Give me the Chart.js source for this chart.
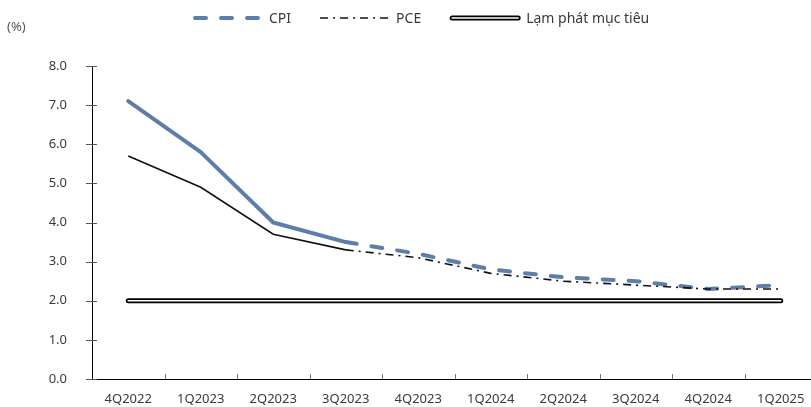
<!DOCTYPE html>
<html>
<head>
<meta charset="utf-8">
<script src="https://cdn.jsdelivr.net/npm/chart.js@4.4.1/dist/chart.umd.min.js"></script>
<style>
  html, body { margin: 0; padding: 0; background: #fff; overflow: hidden; }
  #wrap { position: relative; width: 817px; height: 407px; }
</style>
</head>
<body>
<div id="wrap"><canvas id="c" width="817" height="407"></canvas></div>
<script>
// Quarterly inflation, % y/y (actual through 3Q2023, projection afterwards)
const quarters = ['4Q2022', '1Q2023', '2Q2023', '3Q2023', '4Q2023', '1Q2024', '2Q2024', '3Q2024', '4Q2024', '1Q2025'];
const cpi    = [7.1, 5.8, 4.0, 3.5, 3.2, 2.8, 2.6, 2.5, 2.3, 2.4];
const pce    = [5.7, 4.9, 3.7, 3.3, 3.1, 2.7, 2.5, 2.4, 2.3, 2.3];
const target = [2.0, 2.0, 2.0, 2.0, 2.0, 2.0, 2.0, 2.0, 2.0, 2.0];
const yTicks = [0, 1, 2, 3, 4, 5, 6, 7, 8];
const lastActual = 3; // index of 3Q2023

const FONT = "'Noto Sans', 'Open Sans', sans-serif";
const TEXT = '#3a3a3a';
const CPI_COLOR = '#5d7ea9';
const CPI_DASH = [11, 15];
const PCE_DASH = [8, 5, 2, 5];

const projected = (dash) => (ctx) => ctx.p0DataIndex >= lastActual ? dash : undefined;

// Cross-shaped y ticks and inner x ticks between categories
const tickMarks = {
  id: 'tickMarks',
  afterDraw(chart) {
    const { ctx, scales: { x, y } } = chart;
    ctx.save();
    ctx.strokeStyle = '#555';
    ctx.lineWidth = 1;
    yTicks.forEach(v => {
      const py = Math.round(y.getPixelForValue(v)) + 0.5;
      ctx.beginPath();
      ctx.moveTo(x.left - 6, py);
      ctx.lineTo(x.left + 5, py);
      ctx.stroke();
    });
    ctx.strokeStyle = '#777';
    for (let i = 0; i < quarters.length - 1; i++) {
      const px = Math.round((x.getPixelForValue(i) + x.getPixelForValue(i + 1)) / 2) + 0.5;
      ctx.beginPath();
      ctx.moveTo(px, y.bottom);
      ctx.lineTo(px, y.bottom - 5);
      ctx.stroke();
    }
    ctx.restore();
  }
};

// Unit label and a legend that shows each series' own line style
const legendAndUnit = {
  id: 'legendAndUnit',
  afterDraw(chart) {
    const { ctx } = chart;
    ctx.save();
    ctx.font = `13px ${FONT}`;
    ctx.fillStyle = '#555';
    ctx.textBaseline = 'middle';
    ctx.textAlign = 'left';
    ctx.fillText('(%)', 7, 27);

    ctx.font = `14px ${FONT}`;
    const items = [
      { label: 'CPI', draw: (x0, x1, yy) => {
          ctx.strokeStyle = CPI_COLOR; ctx.lineWidth = 4; ctx.lineCap = 'round';
          ctx.setLineDash(CPI_DASH);
          ctx.beginPath(); ctx.moveTo(x0 + 2, yy); ctx.lineTo(x1, yy); ctx.stroke();
        } },
      { label: 'PCE', draw: (x0, x1, yy) => {
          ctx.strokeStyle = '#111'; ctx.lineWidth = 1.6; ctx.lineCap = 'butt';
          ctx.setLineDash(PCE_DASH);
          ctx.beginPath(); ctx.moveTo(x0, yy); ctx.lineTo(x1, yy); ctx.stroke();
        } },
      { label: 'Lạm phát mục tiêu', draw: (x0, x1, yy) => {
          ctx.setLineDash([]); ctx.lineCap = 'round';
          ctx.strokeStyle = '#000'; ctx.lineWidth = 5;
          ctx.beginPath(); ctx.moveTo(x0 + 2, yy); ctx.lineTo(x1 - 2, yy); ctx.stroke();
          ctx.strokeStyle = '#fff'; ctx.lineWidth = 1.6;
          ctx.beginPath(); ctx.moveTo(x0 + 2, yy); ctx.lineTo(x1 - 2, yy); ctx.stroke();
        } }
    ];
    let x = 193;
    const yy = 18;
    items.forEach(it => {
      ctx.save();
      it.draw(x, x + 70, yy);
      ctx.restore();
      ctx.fillStyle = TEXT;
      ctx.fillText(it.label, x + 76, yy + 1);
      x += 76 + ctx.measureText(it.label).width + 29;
    });
    ctx.restore();
  }
};

new Chart(document.getElementById('c'), {
  type: 'line',
  data: {
    labels: quarters,
    datasets: [
      {
        label: 'PCE', data: pce, order: 0,
        borderColor: '#111', borderWidth: 1.6, pointRadius: 0, tension: 0,
        segment: { borderDash: projected(PCE_DASH) }
      },
      {
        label: 'CPI', data: cpi, order: 1,
        borderColor: CPI_COLOR, borderWidth: 4, pointRadius: 0, tension: 0,
        borderCapStyle: 'round', borderJoinStyle: 'round',
        segment: { borderDash: projected(CPI_DASH) }
      },
      {
        label: 'Lạm phát mục tiêu (inner)', data: target, order: 2,
        borderColor: '#fff', borderWidth: 1.6, pointRadius: 0, borderCapStyle: 'round'
      },
      {
        label: 'Lạm phát mục tiêu', data: target, order: 3,
        borderColor: '#000', borderWidth: 5, pointRadius: 0, borderCapStyle: 'round'
      }
    ]
  },
  options: {
    responsive: false,
    animation: false,
    layout: { padding: { top: 66, left: 0, right: 0, bottom: 0 } },
    plugins: { legend: { display: false }, tooltip: { enabled: false } },
    scales: {
      x: {
        type: 'category',
        offset: true,
        grid: { display: false },
        border: { display: true, color: '#000', width: 1 },
        ticks: { color: TEXT, font: { family: FONT, size: 13 }, padding: 4, maxRotation: 0, autoSkip: false },
        afterFit(s) { s.height = 28; }
      },
      y: {
        min: 0, max: 8,
        grid: { display: false },
        border: { display: true, color: '#000', width: 1 },
        ticks: {
          stepSize: 1, color: TEXT, font: { family: FONT, size: 13 }, padding: 17,
          callback: v => Number(v).toFixed(1)
        },
        afterFit(s) { s.width = 92; }
      }
    }
  },
  plugins: [tickMarks, legendAndUnit]
});
</script>
</body>
</html>
